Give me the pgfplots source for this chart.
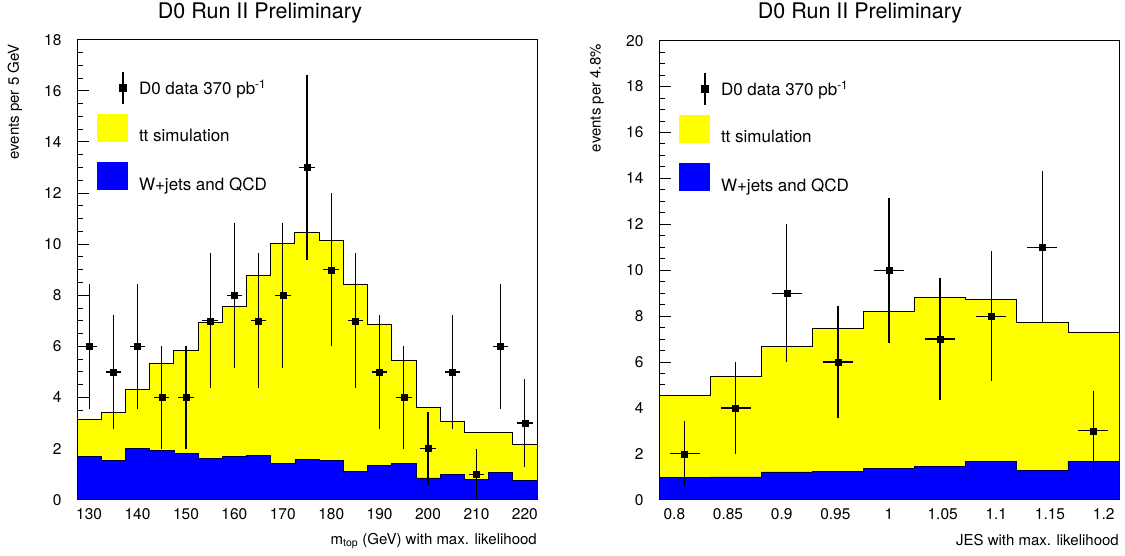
\documentclass[border=0pt]{standalone}
\usepackage{pgfplots}
\pgfplotsset{compat=1.18}
\usepackage{fontspec}
\setmainfont{TeX Gyre Heros}
\definecolor{rootyellow}{RGB}{255,255,0}
\definecolor{rootblue}{RGB}{0,0,255}
\newcommand{\ticfont}{\fontsize{15.5}{18}\selectfont}
\newcommand{\legfont}{\fontsize{17}{20}\selectfont}
\newcommand{\labfont}{\fontsize{15}{18}\selectfont}
\newcommand{\titfont}{\fontsize{21.5}{24}\selectfont}

\pgfplotsset{
  d0axis/.style={
    scale only axis,
    axis line style={line width=1pt},
    every tick/.style={black, line width=1pt},
    tick align=inside,
    tick pos=left,
    major tick length=12pt,
    minor tick length=6pt,
    ymin=0,
    /pgf/number format/assume math mode=true,
    ticklabel style={font=\ticfont},
    yticklabel style={xshift=-12pt},
    xticklabel style={yshift=-5pt},
    minor y tick num=3,
    clip=true,
    legend cell align=left,
    legend style={draw=none, fill=none, inner sep=0pt, outer sep=0pt,
      font=\legfont, row sep=0pt,
      nodes={inner sep=0pt, outer sep=0pt},
      at={(rel axis cs:0,1)}, anchor=north west, xshift=20pt, yshift=-23.75pt},
  },
  dataimg/.style={legend image code/.code={
      \path[draw=none,fill=none] (0pt,-24.25pt) rectangle (42pt,24.25pt);
      \draw[black, line width=1.2pt] (26pt,-16pt) -- (26pt,16pt);
      \fill[black] (22.5pt,-3.5pt) rectangle (29.5pt,3.5pt);}},
  yelimg/.style={legend image code/.code={
      \path[draw=none,fill=none] (0pt,-24.25pt) rectangle (42pt,24.25pt);
      \fill[rootyellow, draw=none] (0pt,-5.5pt) rectangle (31pt,22.5pt);}},
  bluimg/.style={legend image code/.code={
      \path[draw=none,fill=none] (0pt,-24.25pt) rectangle (42pt,24.25pt);
      \fill[rootblue, draw=none] (0pt,-5.5pt) rectangle (31pt,22.5pt);}},
}

\pgfplotstableread{
x y
127.5 3.16
132.5 3.43
137.5 4.30
142.5 5.35
147.5 5.84
152.5 6.95
157.5 7.56
162.5 8.78
167.5 10.02
172.5 10.46
177.5 10.15
182.5 8.44
187.5 6.85
192.5 5.45
197.5 3.60
202.5 3.07
207.5 2.65
212.5 2.65
217.5 2.16
222.5 2.16
}\mtotal

\pgfplotstableread{
x y
127.5 1.68
132.5 1.55
137.5 2.02
142.5 1.94
147.5 1.81
152.5 1.63
157.5 1.71
162.5 1.73
167.5 1.41
172.5 1.59
177.5 1.54
182.5 1.11
187.5 1.33
192.5 1.42
197.5 0.85
202.5 0.98
207.5 0.78
212.5 1.08
217.5 0.76
222.5 0.76
}\mbkg

\pgfplotstableread{
x y ex ey
130 6 1.6 2.449
135 5 1.6 2.236
140 6 1.6 2.449
145 4 1.6 2.000
150 4 1.6 2.000
155 7 1.6 2.646
160 8 1.6 2.828
165 7 1.6 2.646
170 8 1.6 2.828
175 13 1.6 3.606
180 9 1.6 3.000
185 7 1.6 2.646
190 5 1.6 2.236
195 4 1.6 2.000
200 2 1.6 1.414
205 5 1.6 2.236
210 1 1.6 1.000
215 6 1.6 2.449
220 3 1.6 1.732
}\mdata

\pgfplotstableread{
x y
0.7857 4.55
0.8333 5.36
0.8810 6.70
0.9286 7.45
0.9762 8.22
1.0238 8.83
1.0714 8.73
1.1190 7.71
1.1667 7.31
1.2143 7.31
}\jtotal

\pgfplotstableread{
x y
0.7857 0.96
0.8333 0.99
0.8810 1.21
0.9286 1.23
0.9762 1.38
1.0238 1.44
1.0714 1.67
1.1190 1.28
1.1667 1.67
1.2143 1.67
}\jbkg

\pgfplotstableread{
x y ex ey
0.8095 2 0.014 1.414
0.8571 4 0.014 2.000
0.9048 9 0.014 3.000
0.9524 6 0.014 2.449
1.0000 10 0.014 3.162
1.0476 7 0.014 2.646
1.0952 8 0.014 2.828
1.1429 11 0.014 3.317
1.1905 3 0.014 1.732
}\jdata

\begin{document}
\begin{tikzpicture}[x=1pt,y=1pt]
\path (0,0) rectangle (1125,554);

% ---------------- left panel ----------------
\begin{axis}[d0axis,
  at={(77pt,56pt)}, anchor=south west,
  width=460pt, height=460pt,
  xmin=127.5, xmax=222.5, ymax=18,
  xtick={130,140,150,160,170,180,190,200,210,220},
  minor x tick num=4,
  ytick={0,2,4,6,8,10,12,14,16,18},
]
\addlegendimage{dataimg}\addlegendentry{D0 data 370 pb\textsuperscript{-1}}
\addlegendimage{yelimg}\addlegendentry{tt simulation}
\addlegendimage{bluimg}\addlegendentry{W+jets and QCD}
\addplot[const plot, fill=rootyellow, draw=black, line width=0.8pt, forget plot] table[x=x,y=y]{\mtotal} \closedcycle;
\addplot[const plot, fill=rootblue, draw=black!70!rootblue, line width=0.6pt, forget plot] table[x=x,y=y]{\mbkg} \closedcycle;
\addplot[only marks, mark=square*, mark size=3pt, black, forget plot,
  error bars/.cd, x dir=both, x explicit, y dir=both, y explicit,
  error bar style={line width=1.2pt, black}, error mark=none]
  table[x=x,y=y,x error=ex,y error=ey]{\mdata};
\end{axis}

% ---------------- right panel ----------------
\begin{axis}[d0axis,
  at={(659pt,56pt)}, anchor=south west,
  width=460pt, height=459pt,
  xmin=0.7857, xmax=1.2143, ymax=20,
  xtick={0.8,0.85,0.9,0.95,1,1.05,1.1,1.15,1.2},
  xticklabels={0.8,0.85,0.9,0.95,1,1.05,1.1,1.15,1.2},
  minor x tick num=1,
  ytick={0,2,4,6,8,10,12,14,16,18,20},
]
\addlegendimage{dataimg}\addlegendentry{D0 data 370 pb\textsuperscript{-1}}
\addlegendimage{yelimg}\addlegendentry{tt simulation}
\addlegendimage{bluimg}\addlegendentry{W+jets and QCD}
\addplot[const plot, fill=rootyellow, draw=black, line width=0.8pt, forget plot] table[x=x,y=y]{\jtotal} \closedcycle;
\addplot[const plot, fill=rootblue, draw=black!70!rootblue, line width=0.6pt, forget plot] table[x=x,y=y]{\jbkg} \closedcycle;
\addplot[only marks, mark=square*, mark size=3pt, black, forget plot,
  error bars/.cd, x dir=both, x explicit, y dir=both, y explicit,
  error bar style={line width=1.2pt, black}, error mark=none]
  table[x=x,y=y,x error=ex,y error=ey]{\jdata};
\end{axis}

% titles and axis labels
\node[font=\titfont, anchor=base] at (260,536.7) {D0 Run II Preliminary};
\node[font=\titfont, anchor=base] at (860,536.7) {D0 Run II Preliminary};
\node[font=\labfont, rotate=90, anchor=east] at (15,515) {events per 5 GeV};
\node[font=\labfont, rotate=90, anchor=east] at (597,515) {events per 4.8\%};
\node[font=\labfont, anchor=east, inner sep=0pt] at (537,15) {m\textsubscript{top} (GeV) with max. likelihood};
\node[font=\labfont, anchor=east, inner sep=0pt] at (1119,16) {JES with max. likelihood};
\end{tikzpicture}
\end{document}
